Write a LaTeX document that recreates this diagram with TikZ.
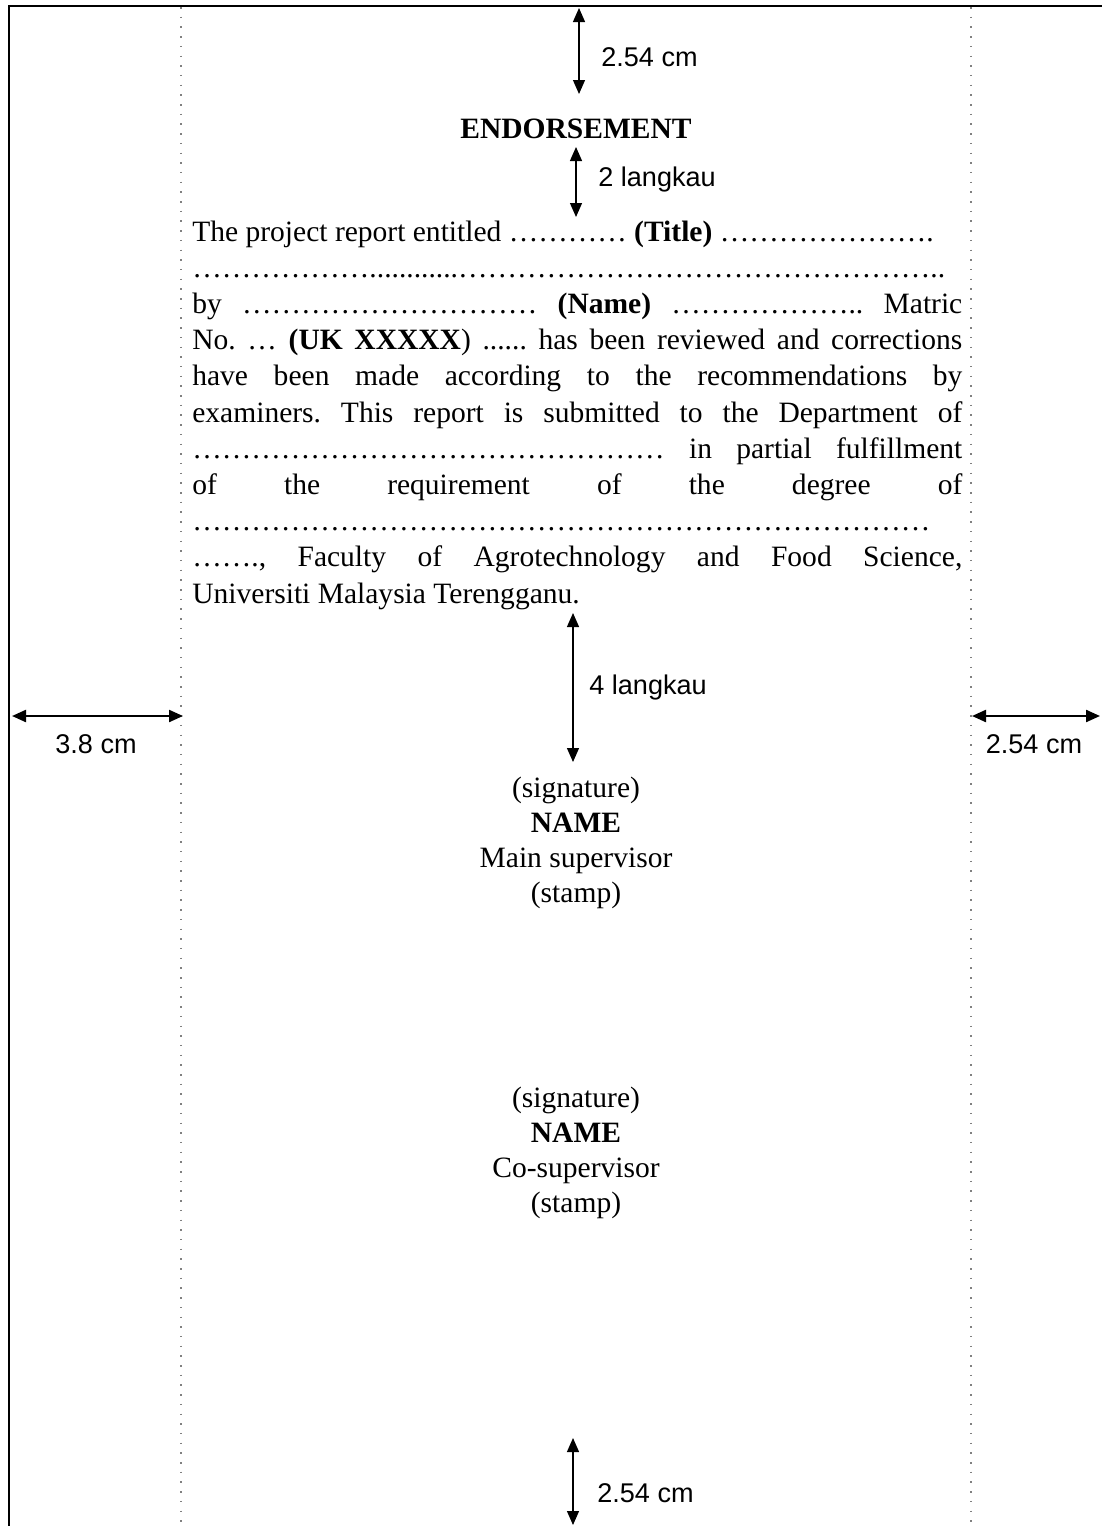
\documentclass[tikz,border=0pt]{standalone}
\usepackage{fontspec}
\setmainfont{Liberation Serif}
\newfontfamily\labelfont{Liberation Sans}
\usetikzlibrary{arrows.meta}
\tikzset{
    frame/.style={line width=0.4mm, black},
    margin/.style={gray, line width=0.3mm, dash pattern=on 0.3mm off 1.64mm},
    dim/.style={{Triangle[length=2.8mm,width=2.4mm]}-{Triangle[length=2.8mm,width=2.4mm]}, line width=0.25mm},
    hdim/.style={dim, line width=0.45mm},
    lab/.style={font=\labelfont\fontsize{15.4}{18}\selectfont, inner sep=0},
    txt/.style={font=\fontsize{16.8}{20.6}\selectfont\frenchspacing, inner sep=0, anchor=base west},
    sig/.style={font=\fontsize{16.8}{20.6}\selectfont, inner sep=0, anchor=base}
}
\newcommand{\jline}[1]{\makebox[154mm][s]{#1}}
\newcommand{\dts}[1]{\foreach \k in {1,...,#1}{…}}

\begin{document}
\begin{tikzpicture}[x=0.2mm,y=-0.2mm]
    \useasboundingbox (0,0) rectangle (1102,1526);
    % page edge and margin lines
    \draw[frame] (9,1526) -- (9,6) -- (1102,6);
    \draw[margin] (181,7) -- (181,1526);
    \draw[margin] (971,7) -- (971,1526);
    \coordinate (top1) at (579,8);
    \coordinate (top2) at (579,94);
    \coordinate (sp1) at (576,147);
    \coordinate (sp2) at (576,217);
    \coordinate (sp3) at (573,613);
    \coordinate (sp4) at (573,762);
    \coordinate (bot1) at (573,1438);
    \coordinate (bot2) at (573,1525);
    \coordinate (lm1) at (12,716);
    \coordinate (lm2) at (183,716);
    \coordinate (rm1) at (972,716);
    \coordinate (rm2) at (1100,716);
    \node[sig] (title) at (576,138) {\textbf{ENDORSEMENT}};
    \node[txt] (l1) at (192,241) {The project report entitled \dts{4} \textbf{(Title)} \dts{7}.};
    \node[txt] (l2) at (192,277.2) {\dts{6}............\dts{16}..};
    \node[txt] (l3) at (192,313.4) {\jline{by \dts{10} \textbf{(Name)} \dts{6}.. Matric}};
    \node[txt] (l4) at (192,349.6) {\jline{No. … \textbf{(UK XXXXX}) ...... has been reviewed and corrections}};
    \node[txt] (l5) at (192,385.8) {\jline{have been made according to the recommendations by}};
    \node[txt] (l6) at (192,422) {\jline{examiners. This report is submitted to the Department of}};
    \node[txt] (l7) at (192,458.2) {\jline{\dts{16} in partial fulfillment}};
    \node[txt] (l8) at (192,494.4) {\jline{of the requirement of the degree of}};
    \node[txt] (l9) at (192,530.6) {\dts{25}};
    \node[txt] (l10) at (192,566.8) {\jline{\dts{2}., Faculty of Agrotechnology and Food Science,}};
    \node[txt] (l11) at (192,603) {Universiti Malaysia Terengganu.};
    % supervisors
    \node[sig] (s1) at (576,797) {(signature)};
    \node[sig] (n1) at (576,832) {\textbf{NAME}};
    \node[sig] (r1) at (576,867) {Main supervisor};
    \node[sig] (st1) at (576,902) {(stamp)};
    \node[sig] (s2) at (576,1107) {(signature)};
    \node[sig] (n2) at (576,1142) {\textbf{NAME}};
    \node[sig] (r2) at (576,1177) {Co-supervisor};
    \node[sig] (st2) at (576,1212) {(stamp)};
    % dimensions
    \draw[dim] (top1) -- (top2);
    \draw[dim] (sp1) -- (sp2);
    \draw[dim] (sp3) -- (sp4);
    \draw[dim] (bot1) -- (bot2);
    \draw[hdim] (lm1) -- (lm2);
    \draw[hdim] (rm1) -- (rm2);
    \node[lab, anchor=west] (d1) at (601,57) {2.54 cm};
    \node[lab, anchor=base west] (d2) at (598,186) {2 langkau};
    \node[lab, anchor=base west] (d3) at (589,694) {4 langkau};
    \node[lab, anchor=base] (d4) at (96,753) {3.8 cm};
    \node[lab, anchor=base] (d5) at (1034,753) {2.54 cm};
    \node[lab, anchor=west] (d6) at (597,1493) {2.54 cm};
\end{tikzpicture}
\end{document}
